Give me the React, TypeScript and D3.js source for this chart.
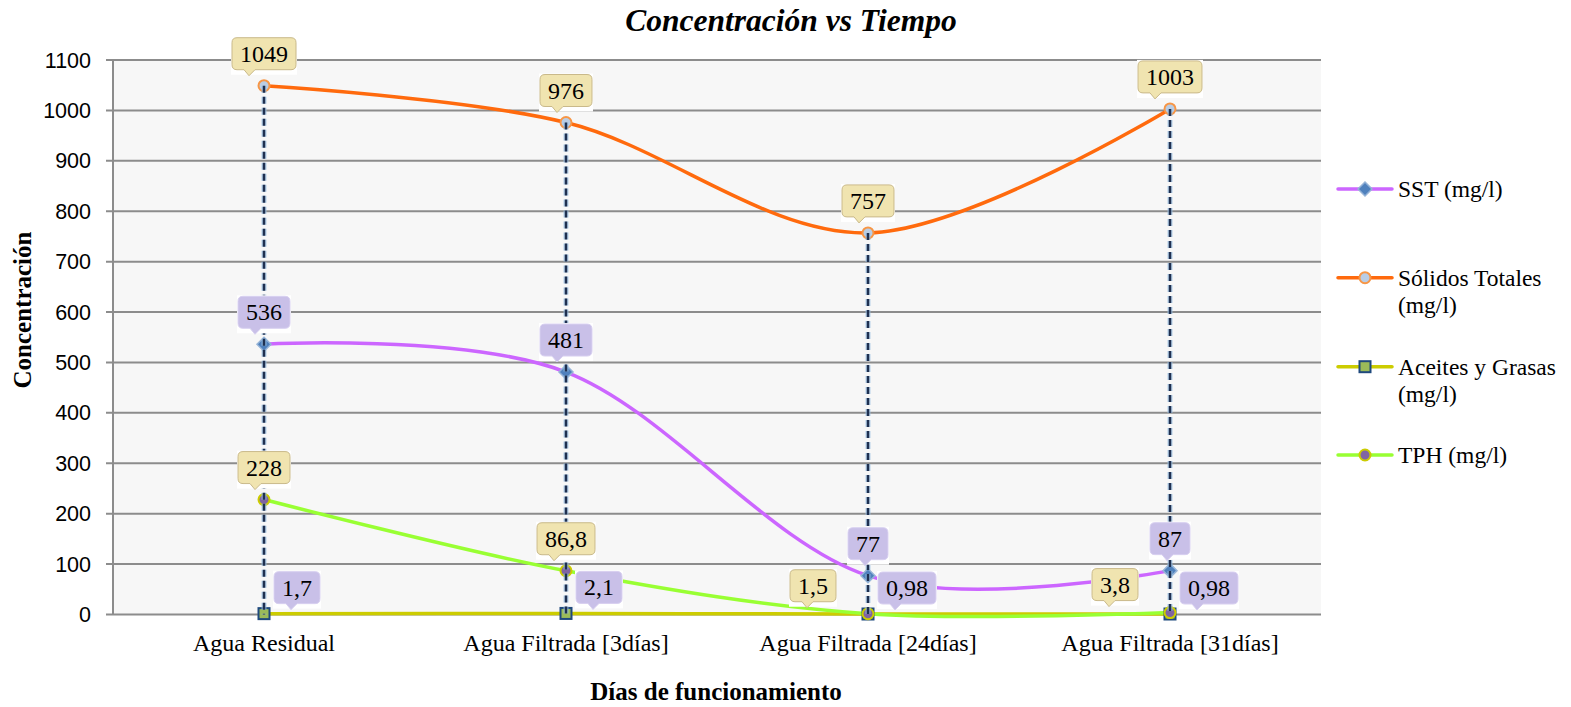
import React from "react";
import * as d3 from "d3";

const categories = ["Agua Residual", "Agua Filtrada [3días]", "Agua Filtrada [24días]", "Agua Filtrada [31días]"];
const seriesNames = ["SST (mg/l)", "Sólidos Totales (mg/l)", "Aceites y Grasas (mg/l)", "TPH (mg/l)"];
const sstValues = [536, 481, 77, 87];
const solidosValues = [1049, 976, 757, 1003];
const aceitesValues = [1.7, 2.1, 0.98, 0.98];
const tphValues = [228, 86.8, 1.5, 3.8];
const yTicks = [0, 100, 200, 300, 400, 500, 600, 700, 800, 900, 1000, 1100];

// label placement per series / per point
const sstPlace = ["above", "above", "above", "above"];
const solidosPlace = ["above", "above", "above", "above"];
const aceitesPlace = ["right", "right", "right", "right"];
const tphPlace = ["above", "above", "left", "left"];

const W = 1571, H = 707;
const M = { left: 113, right: 1321, top: 60, bottom: 614.5 };
const SERIF = "'Liberation Serif', 'Times New Roman', serif";

const fmt = (v: number) => String(v).replace(".", ",");

function textW(s: string, fs: number) {
  let w = 0;
  for (const c of s) w += c === "," ? 0.25 : 0.5;
  return w * fs;
}

type Series = {
  name: string; values: number[]; line: string; marker: string; place: string[];
  labelFill: string; labelStroke: string;
};

const series: Series[] = [
  { name: seriesNames[0], values: sstValues, line: "#cc66ff", marker: "diamond", place: sstPlace, labelFill: "#c9c0e8", labelStroke: "#d8d0f0" },
  { name: seriesNames[1], values: solidosValues, line: "#ff6a0d", marker: "circleBlue", place: solidosPlace, labelFill: "#f0e4b0", labelStroke: "#c9b98a" },
  { name: seriesNames[2], values: aceitesValues, line: "#cccc00", marker: "square", place: aceitesPlace, labelFill: "#c9c0e8", labelStroke: "#d8d0f0" },
  { name: seriesNames[3], values: tphValues, line: "#99ff33", marker: "circlePurple", place: tphPlace, labelFill: "#f0e4b0", labelStroke: "#c9b98a" },
];

function Marker({ kind, x, y }: { kind: string; x: number; y: number }) {
  if (kind === "diamond") {
    const s = 7;
    return <path d={`M${x},${y - s}L${x + s},${y}L${x},${y + s}L${x - s},${y}Z`} fill="#4f81bd" stroke="#95b3d7" strokeWidth={1.5} />;
  }
  if (kind === "circleBlue") {
    return <circle cx={x} cy={y} r={5.5} fill="#b9cde5" stroke="#f79646" strokeWidth={2} />;
  }
  if (kind === "square") {
    return <rect x={x - 5.5} y={y - 5.5} width={11} height={11} fill="#9bbb59" stroke="#1f497d" strokeWidth={2} />;
  }
  return <circle cx={x} cy={y} r={5.5} fill="#8064a2" stroke="#cccc00" strokeWidth={2} />;
}

function Callout({ x, y, text, place, fill, stroke }: any) {
  const fs = 24;
  const w = textW(text, fs) + 16;
  const h = 32;
  let bx: number, by: number;
  if (place === "above") { bx = x - w / 2; by = y - 16 - h; }
  else if (place === "right") { bx = x + 10; by = y - 10 - h; }
  else { bx = x - 32 - w; by = y - 12 - h; }
  const r = 5;
  const tx = bx + 12;
  const d = `M${bx + r},${by} H${bx + w - r} Q${bx + w},${by} ${bx + w},${by + r} V${by + h - r} Q${bx + w},${by + h} ${bx + w - r},${by + h} H${tx + 11} L${tx + 5},${by + h + 6} L${tx},${by + h} H${bx + r} Q${bx},${by + h} ${bx},${by + h - r} V${by + r} Q${bx},${by} ${bx + r},${by} Z`;
  return (
    <g>
      <rect x={bx - 1} y={by - 1} width={w + 2} height={h + 6} fill="#ffffff" />
      <path d={d} fill={fill} stroke={stroke} strokeWidth={1} />
      <text x={bx + w / 2} y={by + h / 2 + 8} textAnchor="middle" fontFamily={SERIF} fontSize={fs} fill="#000">{text}</text>
    </g>
  );
}

export default function App() {
  const x = d3.scaleBand<string>().domain(categories).range([M.left, M.right]);
  const cx = (c: string) => (x(c) as number) + x.bandwidth() / 2;
  const y = d3.scaleLinear().domain([0, 1100]).range([M.bottom, M.top]);

  const lineGen = (vals: number[]) =>
    d3.line<number>().x((_, i) => cx(categories[i])).y((v) => y(v)).curve(d3.curveCardinal.tension(0))(vals) as string;

  const maxPer = categories.map((_, i) => d3.max(series, (s) => s.values[i]) as number);

  const legendRows = [189, 277.7, 366.7, 455];
  const legendText = [["SST (mg/l)"], ["Sólidos Totales", "(mg/l)"], ["Aceites y Grasas", "(mg/l)"], ["TPH (mg/l)"]];

  return (
    <svg width={W} height={H} style={{ position: "absolute", left: 0, top: 0, background: "#fff" }}>
      <rect x={M.left} y={M.top} width={M.right - M.left} height={M.bottom - M.top} fill="#f7f7f7" />
      {yTicks.map((t) => (
        <g key={t}>
          <line x1={M.left - 7} x2={M.right} y1={y(t)} y2={y(t)} stroke="#8c8c8c" strokeWidth={2} />
          <text x={91} y={y(t) + 7.5} textAnchor="end" fontFamily="'Liberation Sans', Arial, sans-serif" fontSize={21.5} fill="#000">{t}</text>
        </g>
      ))}
      <line x1={M.left} x2={M.left} y1={M.top} y2={M.bottom} stroke="#8c8c8c" strokeWidth={2} />

      {series.map((s) => (
        <path key={s.name} d={lineGen(s.values)} fill="none" stroke={s.line} strokeWidth={3.5} strokeLinecap="round" />
      ))}
      {series.map((s) => (
        <g key={s.name + "m"}>
          {s.values.map((v, i) => <Marker key={i} kind={s.marker} x={cx(categories[i])} y={y(v)} />)}
        </g>
      ))}

      {categories.map((c, i) => (
        <g key={c + "drop"}>
          <line x1={cx(c)} x2={cx(c)} y1={y(maxPer[i])} y2={y(0)} stroke="#9dc3e6" strokeWidth={5} strokeDasharray="7 4" opacity={0.7} />
          <line x1={cx(c)} x2={cx(c)} y1={y(maxPer[i])} y2={y(0)} stroke="#1f3050" strokeWidth={2.5} strokeDasharray="7 4" />
        </g>
      ))}

      {series.map((s) => (
        <g key={s.name + "l"}>
          {s.values.map((v, i) => (
            <Callout key={i} x={cx(categories[i])} y={y(v)} text={fmt(v)} place={s.place[i]} fill={s.labelFill} stroke={s.labelStroke} />
          ))}
        </g>
      ))}

      {categories.map((c) => (
        <text key={c} x={cx(c)} y={651} textAnchor="middle" fontFamily={SERIF} fontSize={24} fill="#000">{c}</text>
      ))}

      <text x={791} y={31} textAnchor="middle" fontFamily={SERIF} fontSize={31.5} fontWeight="bold" fontStyle="italic">Concentración vs Tiempo</text>
      <text x={716} y={700} textAnchor="middle" fontFamily={SERIF} fontSize={25} fontWeight="bold">Días de funcionamiento</text>
      <text transform={`translate(31,310) rotate(-90)`} textAnchor="middle" fontFamily={SERIF} fontSize={25} fontWeight="bold">Concentración</text>

      {series.map((s, i) => (
        <g key={s.name + "leg"}>
          <line x1={1338} x2={1392} y1={legendRows[i]} y2={legendRows[i]} stroke={s.line} strokeWidth={3.5} strokeLinecap="round" />
          <Marker kind={s.marker} x={1365} y={legendRows[i]} />
          {legendText[i].map((t, k) => (
            <text key={k} x={1398} y={legendRows[i] + 8 + k * 27} fontFamily={SERIF} fontSize={23.5} fill="#000">{t}</text>
          ))}
        </g>
      ))}
    </svg>
  );
}
